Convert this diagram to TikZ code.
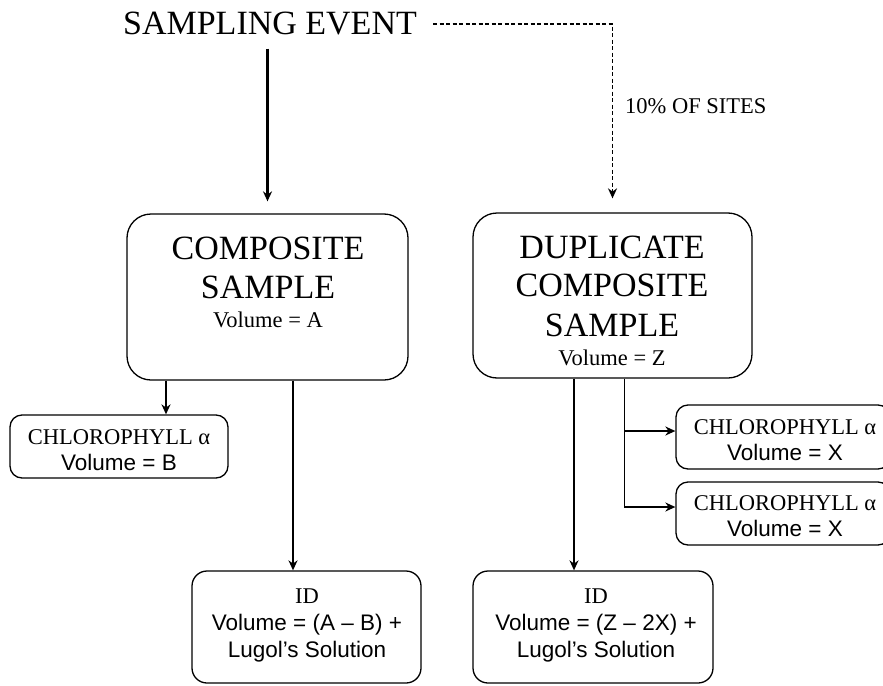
\documentclass[tikz,border=0pt]{standalone}
\usepackage{fontspec}
\setmainfont{Liberation Serif}
\newfontfamily\sansf{Liberation Sans}
\usetikzlibrary{arrows.meta,calc}
\begin{document}
\begin{tikzpicture}[x=1pt,y=1pt,
  bigbox/.style={draw, line width=1.3pt, rounded corners=24pt, inner sep=0pt},
  smallbox/.style={draw, line width=1.3pt, rounded corners=12pt, inner sep=0pt},
  bigtxt/.style={font=\fontsize{34}{40}\selectfont, anchor=base, inner sep=0pt},
  midtxt/.style={font=\fontsize{22.5}{27}\selectfont, anchor=base, inner sep=0pt},
  sanstxt/.style={font=\sansf\fontsize{22.5}{27}\selectfont, anchor=base, inner sep=0pt},
  arr/.style={line width=2.4pt, -{Stealth[length=10pt,width=9pt]}},
  thinarr/.style={line width=1.7pt, -{Stealth[length=10pt,width=9pt]}},
  dasharr/.style={line width=1.8pt, dash pattern=on 4pt off 2.5pt, -{Stealth[length=10pt,width=9pt]}}]
\clip (0,0) rectangle (883,-685);
\fill[white] (0,0) rectangle (883,-685);

% top
\node[bigtxt] (se) at (270,-35) {SAMPLING EVENT};
\node[midtxt, anchor=base west] (pct) at (625,-113) {10\% OF SITES};

% composite sample
\node[bigbox, minimum width=281pt, minimum height=166pt] (comp) at (267.5,-297) {};
\node[bigtxt] (c1) at (268,-259) {COMPOSITE};
\node[bigtxt] (c2) at (268,-298) {SAMPLE};
\node[midtxt] (c3) at (268,-327) {Volume = A};

% duplicate composite sample
\node[bigbox, minimum width=279pt, minimum height=165pt] (dup) at (612.5,-295.5) {};
\node[bigtxt] (d1) at (612,-258) {DUPLICATE};
\node[bigtxt] (d2) at (612,-296) {COMPOSITE};
\node[bigtxt] (d3) at (612,-336) {SAMPLE};
\node[midtxt] (d4) at (612,-365) {Volume = Z};

% chlorophyll boxes
\node[smallbox, minimum width=218pt, minimum height=63pt] (chlB) at (119,-446.5) {};
\node[midtxt] (b1) at (119,-444) {CHLOROPHYLL α};
\node[sanstxt] (b2) at (119,-470) {Volume = B};

\node[smallbox, minimum width=214pt, minimum height=64pt] (chlX1) at (783,-437) {};
\node[midtxt] (x1a) at (785,-434) {CHLOROPHYLL α};
\node[sanstxt] (x1b) at (785,-460) {Volume = X};

\node[smallbox, minimum width=214pt, minimum height=63pt] (chlX2) at (783,-513.5) {};
\node[midtxt] (x2a) at (785,-510.5) {CHLOROPHYLL α};
\node[sanstxt] (x2b) at (785,-536.5) {Volume = X};

% ID boxes
\node[smallbox, rounded corners=15pt, minimum width=229pt, minimum height=112pt] (idA) at (306.5,-627) {};
\node[midtxt] (ia1) at (307,-603) {ID};
\node[sanstxt] (ia2) at (307,-630) {Volume = (A – B) +};
\node[sanstxt] (ia3) at (307,-657) {Lugol’s Solution};

\node[smallbox, rounded corners=15pt, minimum width=240pt, minimum height=112pt] (idZ) at (593,-627) {};
\node[midtxt] (iz1) at (596,-603) {ID};
\node[sanstxt] (iz2) at (596,-630) {Volume = (Z – 2X) +};
\node[sanstxt] (iz3) at (596,-657) {Lugol’s Solution};

% connectors
\draw[arr] ([yshift=-13pt]se.south -| comp.north) -- ([yshift=12pt]comp.north);
\draw[dasharr] ([xshift=16pt]se.east) -| ([yshift=14pt]dup.north);
\draw[arr] ([xshift=-101.5pt]comp.south) -- ([xshift=-101.5pt]comp.south |- chlB.north);
\draw[arr] ([xshift=25.5pt]comp.south) -- ([xshift=25.5pt]comp.south |- idA.north);
\draw[arr] ([xshift=-38.5pt]dup.south) -- ([xshift=-38.5pt]dup.south |- idZ.north);
\draw[thinarr] ([xshift=12pt]dup.south) |- ([yshift=6pt]chlX1.west);
\draw[thinarr] ([xshift=12pt]dup.south) |- ([yshift=6.5pt]chlX2.west);
\end{tikzpicture}
\end{document}
